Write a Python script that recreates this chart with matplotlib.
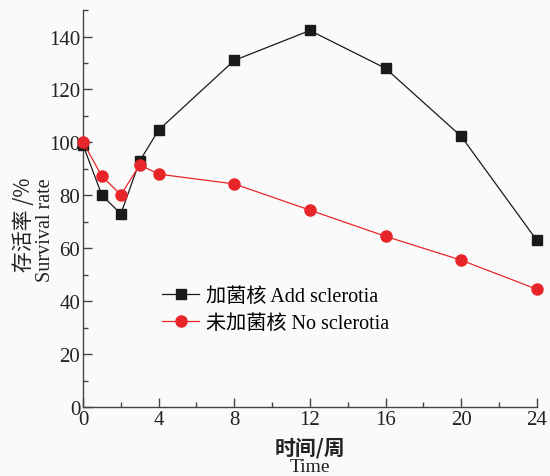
import numpy as np
import matplotlib.pyplot as plt
from matplotlib.ticker import MultipleLocator

# Données
weeks = [0, 1, 2, 3, 4, 8, 12, 16, 20, 24]
add_sclerotia = [99, 80, 73, 93, 104.7, 131, 142.3, 128, 102.3, 63]
no_sclerotia = [100, 87.2, 80.2, 91.5, 88, 84.3, 74.4, 64.5, 55.5, 44.5]
label_add = '加菌核 Add sclerotia'
label_no = '未加菌核 No sclerotia'
xticks = [0, 4, 8, 12, 16, 20, 24]
yticks = [0, 20, 40, 60, 80, 100, 120, 140]

serif = ['Liberation Serif', 'Noto Sans CJK SC']
plt.rcParams['font.family'] = serif

fig = plt.figure(figsize=(5.5, 4.77), dpi=100, facecolor='#fafafa')
ax = fig.add_axes([0.151, 0.1447, 0.825, 0.832])
ax.set_facecolor('#fafafa')

ax.plot(weeks, add_sclerotia, color='#1a1a1a', lw=0.9, marker='s', ms=7,
        label=label_add, clip_on=False, zorder=3)
ax.plot(weeks, no_sclerotia, color='#e8262a', lw=0.9, marker='o', ms=8,
        label=label_no, clip_on=False, zorder=4)

ax.set_xlim(0, 24)
ax.set_ylim(0, 150)
ax.set_xticks(xticks)
ax.set_yticks(yticks)
ax.xaxis.set_minor_locator(MultipleLocator(2))
ax.yaxis.set_minor_locator(MultipleLocator(10))
ax.tick_params(which='both', direction='in', color='#444444', width=1,
               labelsize=15, labelcolor='#222222')
ax.tick_params(which='major', length=6.5, pad=2)
ax.tick_params(which='minor', length=3.3)
for s in ['top', 'right']:
    ax.spines[s].set_visible(False)
for s in ['left', 'bottom']:
    ax.spines[s].set_color('#444444')
    ax.spines[s].set_linewidth(1)

# Légende
ax.legend(loc='upper left', bbox_to_anchor=(0.174, 0.303), frameon=False,
          borderaxespad=0, borderpad=0, handlelength=1.85, handletextpad=0.35,
          labelspacing=0.42, prop={'family': serif, 'size': 14.5})

# Titres des axes (deux lignes)
ax.text(12, -15.2, '时间/周', ha='center', va='center', fontsize=15,
        fontweight='bold', family='Noto Sans CJK SC', color='#222222')
ax.text(12, -22.6, 'Time', ha='center', va='center', fontsize=14,
        color='#222222')
fig.text(0.044, 0.528, '存活率 /%', rotation=90, ha='center', va='center',
         fontsize=15, family=['Noto Sans CJK SC'], color='#222222')
fig.text(0.083, 0.518, 'Survival rate', rotation=90, ha='center', va='center',
         fontsize=14.5, color='#222222')

fig.savefig('out.png', dpi=100, facecolor=fig.get_facecolor())
